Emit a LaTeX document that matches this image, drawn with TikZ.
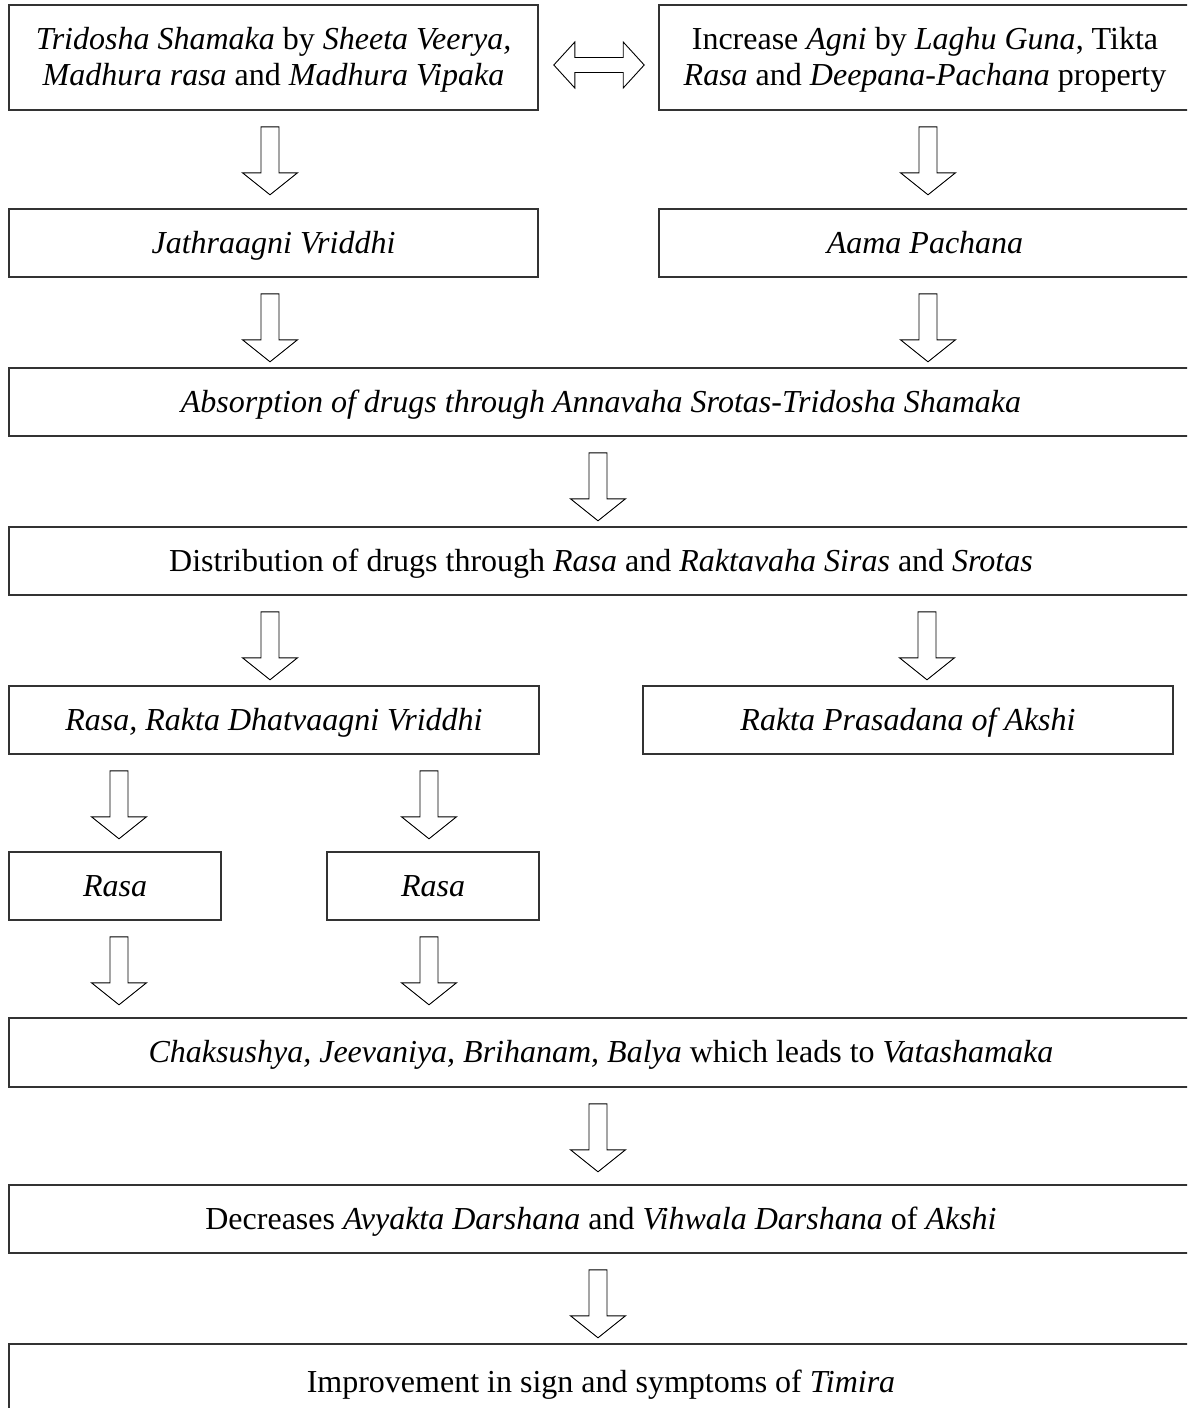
\documentclass[tikz,border=0pt]{standalone}
\usepackage{fontspec}
\setmainfont{Liberation Serif}
\usetikzlibrary{calc}
\tikzset{
  box/.style={draw=black!80, line width=1.6pt, rectangle, inner sep=0pt, align=center,
    font=\fontsize{32}{36}\selectfont},
  onel/.style={box, text height=25pt, text depth=5pt},
  twol/.style={box, text height=61pt, text depth=5pt},
  blk/.style={draw=black, line width=0.9pt, fill=white, line join=miter},
}
% block arrow pointing down, from node #2 towards node #3, at x = #1
\newcommand\dnarrow[3]{%
  \draw[blk] let \p1=(#2.south) in
    (#1pt-9pt,\y1-16pt) -- (#1pt+9pt,\y1-16pt) -- (#1pt+9pt,\y1-62pt)
    -- (#1pt+27.5pt,\y1-62pt) -- (#1pt,\y1-84pt) -- (#1pt-27.5pt,\y1-62pt)
    -- (#1pt-9pt,\y1-62pt) -- cycle;}
\begin{document}
\begin{tikzpicture}[x=1pt,y=1pt]
\useasboundingbox (0,0) rectangle (1187,-1408);
\clip (0,0) rectangle (1187,-1408);

\node[twol, minimum width=529, minimum height=105] (B1) at (273.5,-57.5)
  {\textit{Tridosha Shamaka} by \textit{Sheeta Veerya,}\\\textit{Madhura rasa} and \textit{Madhura Vipaka}};
\node[twol, minimum width=532, minimum height=105] (B2) at (925,-57.5)
  {Increase \textit{Agni} by \textit{Laghu Guna}, Tikta\\\textit{Rasa} and \textit{Deepana-Pachana} property};
\node[onel, minimum width=529, minimum height=68] (B3) at (273.5,-243) {\textit{Jathraagni Vriddhi}};
\node[onel, minimum width=532, minimum height=68] (B4) at (925,-243) {\textit{Aama Pachana}};
\node[onel, minimum width=1184, minimum height=68] (B5) at (601,-402)
  {\textit{Absorption of drugs through Annavaha Srotas-Tridosha Shamaka}};
\node[onel, minimum width=1184, minimum height=68] (B6) at (601,-561)
  {Distribution of drugs through \textit{Rasa} and \textit{Raktavaha Siras} and \textit{Srotas}};
\node[onel, minimum width=530, minimum height=68] (B7) at (274,-720) {\textit{Rasa, Rakta Dhatvaagni Vriddhi}};
\node[onel, minimum width=530, minimum height=68] (B8) at (908,-720) {\textit{Rakta Prasadana of Akshi}};
\node[onel, minimum width=212, minimum height=68] (B9) at (115,-886) {\textit{Rasa}};
\node[onel, minimum width=212, minimum height=68] (B10) at (433,-886) {\textit{Rasa}};
\node[onel, minimum width=1184, minimum height=69] (B11) at (601,-1052.5)
  {\textit{Chaksushya, Jeevaniya, Brihanam, Balya} which leads to \textit{Vatashamaka}};
\node[onel, minimum width=1184, minimum height=68] (B12) at (601,-1219)
  {Decreases \textit{Avyakta Darshana} and \textit{Vihwala Darshana} of \textit{Akshi}};
\node[onel, minimum width=1184, minimum height=76] (B13) at (601,-1382)
  {Improvement in sign and symptoms of \textit{Timira}};

% double block arrow between the two top boxes
\draw[blk] let \p1=(B1.east), \p2=(B2.west) in
  (\x1+15pt,\y1-7.5pt) -- (\x1+36pt,\y1+15.5pt) -- (\x1+36pt,\y1)
  -- (\x2-35pt,\y1) -- (\x2-35pt,\y1+15.5pt) -- (\x2-14pt,\y1-7.5pt)
  -- (\x2-35pt,\y1-30.5pt) -- (\x2-35pt,\y1-15pt) -- (\x1+36pt,\y1-15pt)
  -- (\x1+36pt,\y1-30.5pt) -- cycle;

\dnarrow{270}{B1}{B3}
\dnarrow{928}{B2}{B4}
\dnarrow{270}{B3}{B5}
\dnarrow{928}{B4}{B5}
\dnarrow{598}{B5}{B6}
\dnarrow{270}{B6}{B7}
\dnarrow{927}{B6}{B8}
\dnarrow{119}{B7}{B9}
\dnarrow{429}{B7}{B10}
\dnarrow{119}{B9}{B11}
\dnarrow{429}{B10}{B11}
\dnarrow{598}{B11}{B12}
\dnarrow{598}{B12}{B13}
\end{tikzpicture}
\end{document}
